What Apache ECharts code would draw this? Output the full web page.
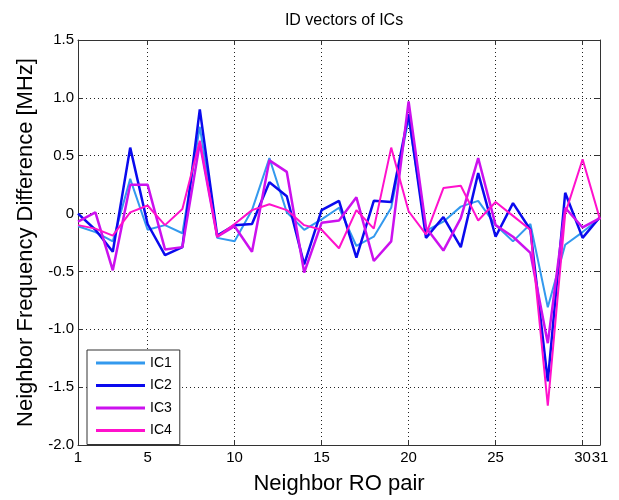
<!DOCTYPE html>
<html>
<head>
<meta charset="utf-8">
<script src="https://cdn.jsdelivr.net/npm/echarts@6/dist/echarts.min.js"></script>
<style>
html,body{margin:0;padding:0;background:#fff;}
#chart{width:619px;height:500px;}
</style>
</head>
<body>
<div id="chart"></div>
<script>
// neighbor RO pair index
const pairs = ['1','2','3','4','5','6','7','8','9','10','11','12','13','14','15','16',
  '17','18','19','20','21','22','23','24','25','26','27','28','29','30','31'];
const xTicks = ['1','5','10','15','20','25','30','31'];
const yTicks = [-2.0, -1.5, -1.0, -0.5, 0, 0.5, 1.0, 1.5];

// frequency difference [MHz] per IC
const ic1 = [-0.11,-0.16,-0.24,0.30,-0.14,-0.10,-0.17,0.75,-0.21,-0.24,0.03,0.48,0.01,-0.14,-0.05,0.05,
  -0.28,-0.20,0.05,0.82,-0.15,-0.07,0.06,0.11,-0.10,-0.24,-0.09,-0.81,-0.27,-0.16,-0.04];
const ic2 = [0.00,-0.14,-0.33,0.57,-0.09,-0.36,-0.29,0.90,-0.19,-0.10,-0.09,0.27,0.15,-0.44,0.03,0.11,
  -0.38,0.11,0.10,0.86,-0.21,-0.03,-0.29,0.35,-0.20,0.09,-0.14,-1.45,0.18,-0.21,-0.03];
const ic3 = [-0.07,0.01,-0.49,0.25,0.25,-0.31,-0.29,0.61,-0.20,-0.11,-0.33,0.46,0.36,-0.51,-0.08,-0.06,
  0.14,-0.41,-0.24,0.97,-0.12,-0.32,-0.04,0.48,-0.10,-0.20,-0.34,-1.12,0.05,-0.12,-0.04];
const ic4 = [-0.10,-0.13,-0.19,0.01,0.07,-0.10,0.04,0.63,-0.20,-0.09,0.03,0.08,0.03,-0.10,-0.14,-0.30,
  0.03,-0.13,0.57,0.02,-0.18,0.22,0.24,-0.06,0.10,-0.02,-0.14,-1.66,0.00,0.47,-0.05];

const names = ['IC1','IC2','IC3','IC4'];
const colors = ['#3399ee','#0a0aee','#cc11ee','#ff11cc'];
const values = [ic1, ic2, ic3, ic4];

const font = "'Liberation Sans', Arial, sans-serif";
const tickIdx = i => xTicks.indexOf(pairs[i]) >= 0;
const dotted = {show:true, lineStyle:{color:'#222', type:[1,3], width:1}};

const chart = echarts.init(document.getElementById('chart'));
chart.setOption({
  animation:false,
  backgroundColor:'#fff',
  textStyle:{fontFamily:font},
  title:{
    text:'ID vectors of ICs', left:339, top:8, textAlign:'center',
    textStyle:{fontFamily:font, fontSize:16, fontWeight:'normal', color:'#000'}
  },
  grid:{left:78, right:19, top:40, bottom:48},
  legend:{
    orient:'vertical', left:87, top:350,
    data:names, icon:'rect',
    backgroundColor:'#fff', borderColor:'#333', borderWidth:1, borderRadius:0,
    padding:[6,8,7,9], itemWidth:49, itemHeight:3, itemGap:8.5,
    textStyle:{fontFamily:font, fontSize:14, lineHeight:14, color:'#000'}
  },
  xAxis:[{
    type:'category', data:pairs, boundaryGap:false,
    name:'Neighbor RO pair', nameLocation:'middle', nameGap:28,
    nameTextStyle:{fontFamily:font, fontSize:22, color:'#000'},
    axisLine:{onZero:false, lineStyle:{color:'#333', width:1}},
    axisTick:{inside:true, length:5, interval:i => tickIdx(i), lineStyle:{color:'#333'}},
    axisLabel:{interval:i => tickIdx(i), margin:5, fontFamily:font, fontSize:15, color:'#000'},
    splitLine:Object.assign({interval:i => tickIdx(i)}, dotted)
  },{
    type:'category', data:pairs, boundaryGap:false, position:'top',
    axisLine:{onZero:false, lineStyle:{color:'#333', width:1}},
    axisTick:{inside:true, length:5, interval:i => tickIdx(i), lineStyle:{color:'#333'}},
    axisLabel:{show:false}, splitLine:{show:false}
  }],
  yAxis:[{
    type:'value', min:-2, max:1.5, interval:0.5,
    name:'Neighbor Frequency Difference [MHz]', nameLocation:'middle', nameGap:40,
    nameTextStyle:{fontFamily:font, fontSize:22, color:'#000'},
    axisLine:{show:true, onZero:false, lineStyle:{color:'#333', width:1}},
    axisTick:{show:true, inside:true, length:5, lineStyle:{color:'#333'}},
    axisLabel:{margin:4, fontFamily:font, fontSize:15, color:'#000',
      formatter:v => (yTicks.indexOf(v) >= 0 ? (v === 0 ? '0' : v.toFixed(1)) : '')},
    splitLine:dotted
  },{
    type:'value', min:-2, max:1.5, interval:0.5, position:'right',
    axisLine:{show:true, onZero:false, lineStyle:{color:'#333', width:1}},
    axisTick:{show:true, inside:true, length:5, lineStyle:{color:'#333'}},
    axisLabel:{show:false}, splitLine:{show:false}
  }],
  series:values.map((d, k) => ({
    name:names[k], type:'line', data:d, symbol:'none',
    xAxisIndex:0, yAxisIndex:0,
    lineStyle:{color:colors[k], width:k === 1 || k === 2 ? 2.5 : 2},
    itemStyle:{color:colors[k]}
  }))
});
</script>
</body>
</html>
